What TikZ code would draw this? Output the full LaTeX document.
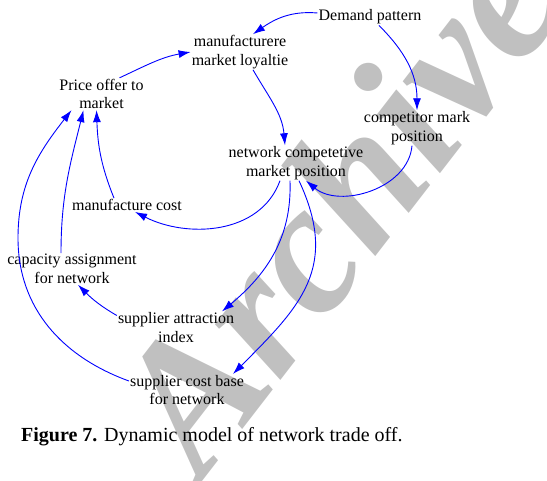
\documentclass[tikz,border=0pt]{standalone}
\usepackage{fontspec}
\setmainfont{Liberation Serif}
\usetikzlibrary{arrows.meta}
\definecolor{wmgray}{RGB}{192,192,192}
\tikzset{
  factor/.style={align=center, inner sep=1pt, font=\fontsize{16}{18.5}\selectfont},
  link/.style={blue, line width=0.9pt, -{Latex[length=12pt,width=8pt]}}
}
\begin{document}
\begin{tikzpicture}[x=1pt, y=1pt]
        \useasboundingbox (0,0) rectangle (547,-481);
        \node[wmgray, rotate=52.3, anchor=base west, inner sep=0pt, font=\fontsize{187}{187}\selectfont\bfseries\itshape] (mark) at (202,-482) {Archive}; % watermark
        \node[factor] (demand) at (370,-17) {Demand pattern};
        \node[factor] (loyal) at (240,-52) {manufacturere\\market loyaltie};
        \node[factor] (price) at (101.5,-94) {Price offer to\\market};
        \node[factor] (comp) at (417,-128) {competitor mark\\position};
        \node[factor] (net) at (296,-163) {network competetive\\market position};
        \node[factor] (mcost) at (127,-205) {manufacture cost};
        \node[factor] (cap) at (72,-269) {capacity assignment\\for network};
        \node[factor] (sattr) at (176,-327.5) {supplier attraction\\index};
        \node[factor] (scost) at (187,-390) {supplier cost base\\for network};
        \draw[link] ([yshift=4pt]demand.west) to[out=175, in=35] ([xshift=13pt]loyal.north);
        \draw[link] ([xshift=9pt]demand.south) to[out=-45, in=90] (comp.north);
        \draw[link] ([xshift=18pt]price.north) to[out=25, in=190] (loyal.west);
        \draw[link] ([xshift=13pt]loyal.south) to[out=-60, in=95] ([xshift=-11pt]net.north);
        \draw[link] ([xshift=-5pt]comp.south) to[out=-95, in=-40] ([xshift=10pt]net.south);
        \draw[link] ([xshift=-16pt]net.south) to[out=-110, in=-27] ([xshift=8pt]mcost.south);
        \draw[link] ([xshift=-13pt]mcost.north) to[out=112, in=-88] ([xshift=-5pt]price.south);
        \draw[link] ([xshift=-11pt]cap.north) to[out=90, in=-104] ([xshift=-18pt]price.south);
        \draw[link] ([yshift=9pt]scost.west) to[out=160, in=-90] (18,-238) to[out=90, in=-128] ([xshift=-30pt]price.south);
        \draw[link] ([xshift=-6pt]net.south) to[out=-88, in=40] ([xshift=46pt]sattr.north);
        \draw[link] ([yshift=12pt]sattr.west) to[out=150, in=-45] ([xshift=6pt]cap.south);
        \draw[link] ([xshift=3pt]net.south) to[out=-65, in=45, looseness=1.2] ([xshift=46pt]scost.north);
        \node[anchor=base west, inner sep=0pt, font=\fontsize{20}{24}\selectfont] (cap7) at (21,-442) {\textbf{Figure 7.} Dynamic model of network trade off.};
    \end{tikzpicture}
\end{document}
